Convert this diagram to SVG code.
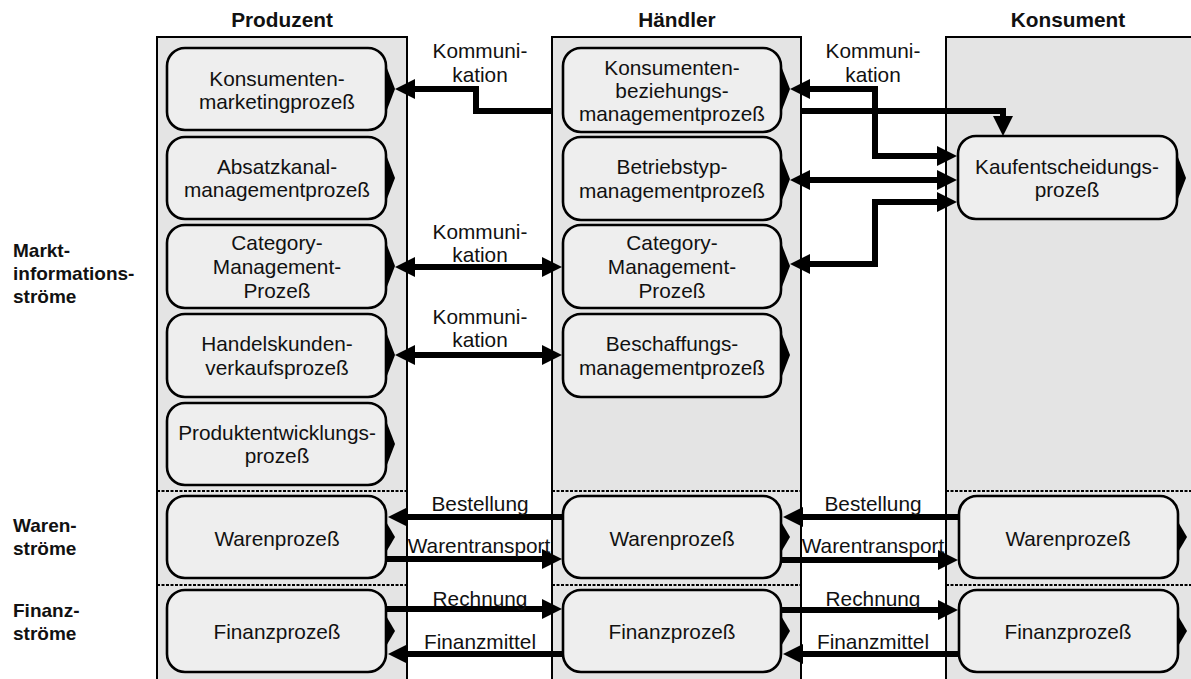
<svg xmlns="http://www.w3.org/2000/svg" width="1191" height="679" viewBox="0 0 1191 679">
<style>
text{font-family:"Liberation Sans",Arial,sans-serif;fill:#111}
.t{font-size:20.8px;text-anchor:middle}
.hdr{font-size:20.8px;font-weight:bold;text-anchor:middle}
.side{font-size:19px;font-weight:bold}
.col{fill:#e4e4e4;stroke:#000;stroke-width:2}
.box{fill:#eeeeee;stroke:#000;stroke-width:2.6}
.wedge{fill:#000}
.sep{stroke:#000;stroke-width:2.2;stroke-dasharray:3 1.5;fill:none}
.c{fill:none;stroke:#000;stroke-width:6;stroke-linejoin:miter}
.e{marker-end:url(#ah)}
.b{marker-start:url(#ah);marker-end:url(#ah)}
</style>
<defs>
<marker id="ah" viewBox="0 0 20 20" refX="5" refY="10" markerWidth="20" markerHeight="20" markerUnits="userSpaceOnUse" orient="auto-start-reverse"><path d="M0,0 L20,10 L0,20 z" fill="#000"/></marker>
</defs>
<rect width="1191" height="679" fill="#fff"/>

<g id="headers">
<text class="hdr" x="282" y="27">Produzent</text>
<text class="hdr" x="677" y="27">Händler</text>
<text class="hdr" x="1068" y="27">Konsument</text>
</g>
<g id="side-labels">
<text class="side" x="13" y="257">Markt-</text>
<text class="side" x="13" y="280">informations-</text>
<text class="side" x="13" y="303">ströme</text>
<text class="side" x="13" y="532">Waren-</text>
<text class="side" x="13" y="555">ströme</text>
<text class="side" x="13" y="617">Finanz-</text>
<text class="side" x="13" y="640">ströme</text>
</g>

<g id="columns">
<rect id="col-produzent" class="col" x="157" y="37" width="250" height="650"/>
<rect id="col-haendler" class="col" x="552" y="37" width="249" height="650"/>
<rect id="col-konsument" class="col" x="946" y="37" width="260" height="650"/>
<path class="sep" d="M157,491 H407 M552,491 H801 M946,491 H1191 M157,585 H407 M552,585 H801 M946,585 H1191"/>
</g>

<g id="connectors">
<path class="c e" d="M552,111 H476 V89 H410"/>
<path class="c e" d="M802,111 H1003 V121"/>
<path class="c b" d="M805,89 H875 V156 H942"/>
<path class="c b" d="M805,180 H942"/>
<path class="c b" d="M805,264 H875 V202 H942"/>
<path class="c b" d="M410,267 H547"/>
<path class="c b" d="M410,355 H547"/>
<path class="c e" d="M563,517 H403"/>
<path class="c e" d="M387,559 H547"/>
<path class="c e" d="M387,609 H547"/>
<path class="c e" d="M563,654 H403"/>
<path class="c e" d="M959,517 H798"/>
<path class="c e" d="M781,560 H943"/>
<path class="c e" d="M781,610 H943"/>
<path class="c e" d="M959,654 H798"/>
<text class="t" x="480" y="58">Kommuni-</text>
<text class="t" x="480" y="82">kation</text>
<text class="t" x="873" y="58">Kommuni-</text>
<text class="t" x="873" y="82">kation</text>
<text class="t" x="480" y="239">Kommuni-</text>
<text class="t" x="480" y="262">kation</text>
<text class="t" x="480" y="324">Kommuni-</text>
<text class="t" x="480" y="347">kation</text>
<text class="t" x="480" y="511">Bestellung</text>
<text class="t" x="479" y="553">Warentransport</text>
<text class="t" x="480" y="606">Rechnung</text>
<text class="t" x="480" y="649">Finanzmittel</text>
<text class="t" x="873" y="511">Bestellung</text>
<text class="t" x="873" y="553">Warentransport</text>
<text class="t" x="873" y="606">Rechnung</text>
<text class="t" x="873" y="649">Finanzmittel</text>
</g>

<g id="p-konsumentenmarketing">
<rect class="box" x="167" y="48" width="219" height="82" rx="18"/>
<polygon class="wedge" points="385,63 395,89 385,115"/>
<text class="t" x="277" y="86">Konsumenten-</text>
<text class="t" x="277" y="109">marketingprozeß</text>
</g>
<g id="p-absatzkanal">
<rect class="box" x="167" y="137" width="219" height="82" rx="18"/>
<polygon class="wedge" points="385,152 395,178 385,204"/>
<text class="t" x="277" y="174">Absatzkanal-</text>
<text class="t" x="277" y="197">managementprozeß</text>
</g>
<g id="p-category">
<rect class="box" x="167" y="225" width="219" height="83" rx="18"/>
<polygon class="wedge" points="385,240 395,266 385,292"/>
<text class="t" x="277" y="250">Category-</text>
<text class="t" x="277" y="274">Management-</text>
<text class="t" x="277" y="298">Prozeß</text>
</g>
<g id="p-handelskunden">
<rect class="box" x="167" y="314" width="219" height="83" rx="18"/>
<polygon class="wedge" points="385,329 395,355 385,381"/>
<text class="t" x="277" y="351">Handelskunden-</text>
<text class="t" x="277" y="375">verkaufsprozeß</text>
</g>
<g id="p-produktentwicklung">
<rect class="box" x="167" y="403" width="219" height="82" rx="18"/>
<polygon class="wedge" points="385,418 395,444 385,470"/>
<text class="t" x="277" y="440">Produktentwicklungs-</text>
<text class="t" x="277" y="463">prozeß</text>
</g>
<g id="p-waren">
<rect class="box" x="167" y="496" width="219" height="82" rx="18"/>
<polygon class="wedge" points="385,520 395,537 385,554"/>
<text class="t" x="277" y="546">Warenprozeß</text>
</g>
<g id="p-finanz">
<rect class="box" x="167" y="590" width="219" height="82" rx="18"/>
<polygon class="wedge" points="385,614 395,631 385,648"/>
<text class="t" x="277" y="639">Finanzprozeß</text>
</g>

<g id="h-konsumentenbeziehung">
<rect class="box" x="563" y="48" width="218" height="84" rx="18"/>
<polygon class="wedge" points="780,63 790,89 780,115"/>
<text class="t" x="672" y="75">Konsumenten-</text>
<text class="t" x="672" y="98">beziehungs-</text>
<text class="t" x="672" y="121">managementprozeß</text>
</g>
<g id="h-betriebstyp">
<rect class="box" x="563" y="137" width="218" height="83" rx="18"/>
<polygon class="wedge" points="780,153 790,179 780,205"/>
<text class="t" x="672" y="174">Betriebstyp-</text>
<text class="t" x="672" y="198">managementprozeß</text>
</g>
<g id="h-category">
<rect class="box" x="563" y="225" width="218" height="83" rx="18"/>
<polygon class="wedge" points="780,240 790,266 780,292"/>
<text class="t" x="672" y="250">Category-</text>
<text class="t" x="672" y="274">Management-</text>
<text class="t" x="672" y="298">Prozeß</text>
</g>
<g id="h-beschaffung">
<rect class="box" x="563" y="314" width="218" height="83" rx="18"/>
<polygon class="wedge" points="780,329 790,355 780,381"/>
<text class="t" x="672" y="351">Beschaffungs-</text>
<text class="t" x="672" y="375">managementprozeß</text>
</g>
<g id="h-waren">
<rect class="box" x="563" y="496" width="218" height="82" rx="18"/>
<polygon class="wedge" points="780,520 790,537 780,554"/>
<text class="t" x="672" y="546">Warenprozeß</text>
</g>
<g id="h-finanz">
<rect class="box" x="563" y="590" width="218" height="82" rx="18"/>
<polygon class="wedge" points="780,614 790,631 780,648"/>
<text class="t" x="672" y="639">Finanzprozeß</text>
</g>

<g id="k-kaufentscheidung">
<rect class="box" x="958" y="136" width="219" height="83" rx="18"/>
<polygon class="wedge" points="1176,152 1186,178 1176,204"/>
<text class="t" x="1067" y="174">Kaufentscheidungs-</text>
<text class="t" x="1067" y="197">prozeß</text>
</g>
<g id="k-waren">
<rect class="box" x="959" y="496" width="219" height="82" rx="18"/>
<polygon class="wedge" points="1177,520 1187,537 1177,554"/>
<text class="t" x="1068" y="546">Warenprozeß</text>
</g>
<g id="k-finanz">
<rect class="box" x="959" y="590" width="219" height="82" rx="18"/>
<polygon class="wedge" points="1177,614 1187,631 1177,648"/>
<text class="t" x="1068" y="639">Finanzprozeß</text>
</g>
</svg>
